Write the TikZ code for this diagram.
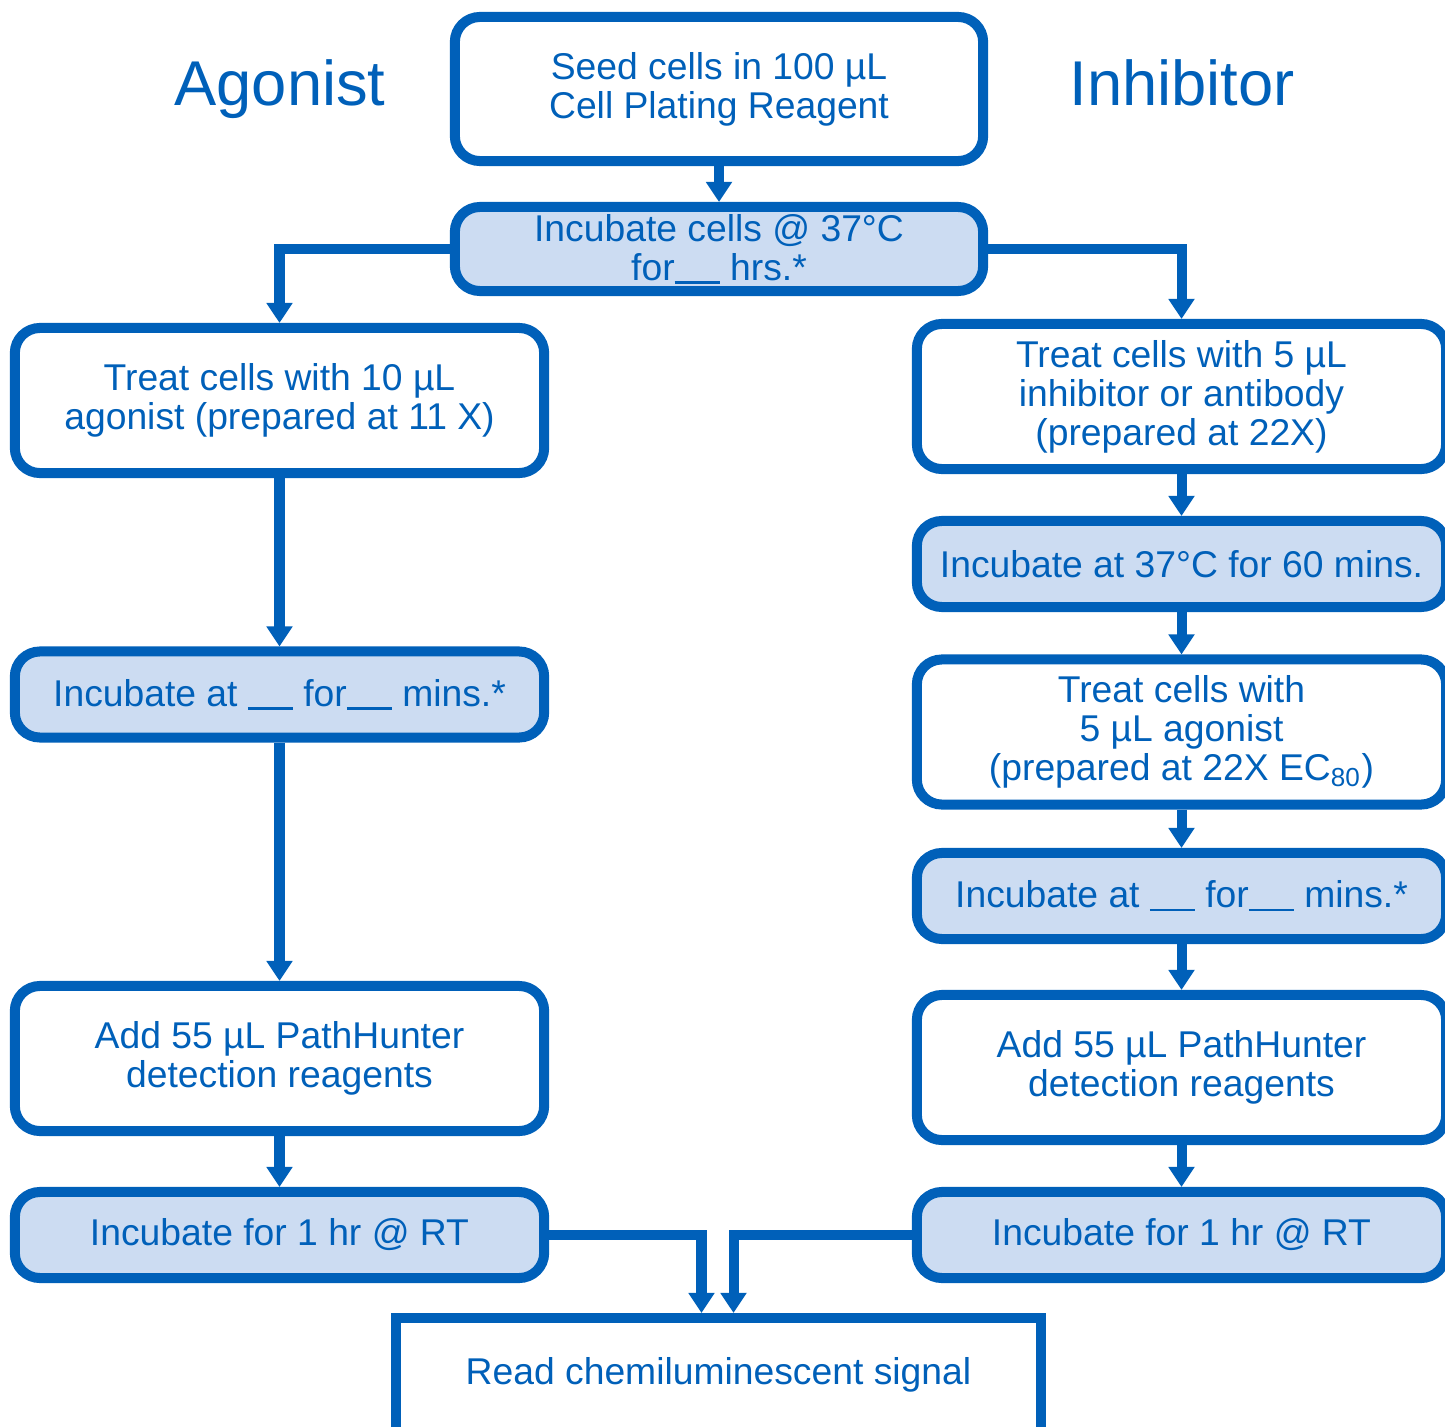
\documentclass[tikz,border=0pt]{standalone}
\usepackage{fontspec}
\setmainfont{Liberation Sans}
\usepackage{tikz}
\usetikzlibrary{arrows.meta}
\definecolor{stepblue}{RGB}{0,96,185}
\definecolor{steplight}{RGB}{204,220,242}
\newcommand{\fillin}{\rule[-1pt]{0.45cm}{0.7pt}}

\begin{document}
\begin{tikzpicture}[x=0.01cm,y=-0.01cm,
	every node/.style={text=stepblue,font=\fontsize{10.6}{11.1}\selectfont,align=center},
	plainbox/.style={draw=stepblue,line width=0.1cm,rounded corners=0.25cm,fill=white,
		minimum width=5.29cm,minimum height=1.45cm,inner sep=0pt},
	incubox/.style={plainbox,fill=steplight,minimum height=0.86cm},
	title/.style={font=\fontsize{18}{20}\selectfont,anchor=base},
	flow/.style={draw=stepblue,line width=0.1cm,-{Triangle[width=0.25cm,length=0.2cm]}}]
	\clip (0,0) rectangle (1445,1427);

	%top
	\node[plainbox,minimum width=5.28cm,minimum height=1.44cm] (seed) at (719,89) {Seed cells in 100 µL\\Cell Plating Reagent};
	\node[incubox,minimum width=5.28cm,minimum height=0.84cm] (incub) at (719,249) {Incubate cells @ 37°C\\for\fillin{} hrs.*};
	\node[title] (agonist) at (280,105) {Agonist};
	\node[title] (inhibitor) at (1182,105) {Inhibitor};

	%agonist side
	\node[plainbox] (ltreat) at (279.5,400.5) {Treat cells with 10 µL\\agonist (prepared at 11 X)};
	\node[incubox] (linc) at (279.5,694.5) {Incubate at \fillin{} for\fillin{} mins.*};
	\node[plainbox] (ladd) at (279.5,1058.5) {Add 55 µL PathHunter\\detection reagents};
	\node[incubox] (lrt) at (279.5,1235) {Incubate for 1 hr @ RT};

	%inhibitor side
	\node[plainbox] (rtreat) at (1181.5,396.5) {Treat cells with 5 µL\\inhibitor or antibody\\(prepared at 22X)};
	\node[incubox] (rinc) at (1181.5,564) {Incubate at 37°C for 60 mins.};
	\node[plainbox] (ragon) at (1181.5,732) {Treat cells with\\5 µL agonist\\(prepared at 22X EC\textsubscript{80})};
	\node[incubox] (rwait) at (1181.5,896) {Incubate at \fillin{} for\fillin{} mins.*};
	\node[plainbox] (radd) at (1181.5,1067.5) {Add 55 µL PathHunter\\detection reagents};
	\node[incubox] (rrt) at (1181.5,1235) {Incubate for 1 hr @ RT};

	\node[draw=stepblue,line width=0.1cm,fill=white,minimum width=6.45cm,minimum height=1.14cm] (read) at (718.5,1375) {Read chemiluminescent signal};

	\draw[flow] (seed) -- (incub);
	\draw[flow] (incub.west) -| (ltreat.north);
	\draw[flow] (incub.east) -| (rtreat.north);

	\draw[flow] (ltreat) -- (linc);
	\draw[flow] (linc) -- (ladd);
	\draw[flow] (ladd) -- (lrt);

	\draw[flow] (rtreat) -- (rinc);
	\draw[flow] (rinc) -- (ragon);
	\draw[flow] (ragon) -- (rwait);
	\draw[flow] (rwait) -- (radd);
	\draw[flow] (radd) -- (rrt);

	\draw[flow] (lrt.east) -| ([xshift=-0.17cm]read.north);
	\draw[flow] (rrt.west) -| ([xshift=0.15cm]read.north);
\end{tikzpicture}
\end{document}
